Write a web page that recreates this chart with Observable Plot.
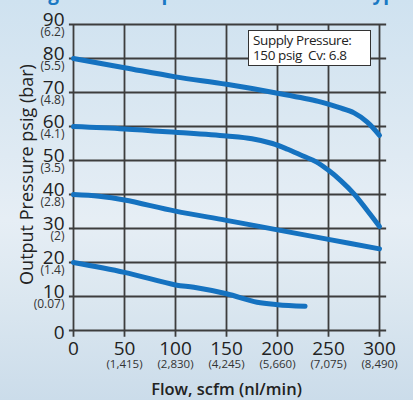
<!DOCTYPE html>
<html>
<head>
<meta charset="utf-8">
<script src="https://cdn.jsdelivr.net/npm/d3@7"></script>
<script src="https://cdn.jsdelivr.net/npm/@observablehq/plot@0.6"></script>
<style>
  html, body { margin: 0; padding: 0; }
  body {
    width: 413px; height: 400px; overflow: hidden; position: relative;
    background: linear-gradient(180deg, #cfe2f0 0%, #dbe8f2 30%, #e6eef5 55%, #dbe7f0 75%, #cbdcea 100%);
    font-family: "Open Sans", sans-serif;
  }
  #title {
    position: absolute; left: 28px; top: -20px; white-space: nowrap;
    font: 700 19px/27px "Open Sans", sans-serif; color: #1b79c4;
  }
  #chart { position: absolute; left: 0; top: 0; }
  #note {
    position: absolute; left: 248px; top: 30px; width: 117px; height: 34px;
    background: #fff; border: 1.6px solid #333; padding: 0 0 0 4px;
    font: 400 13.5px "Open Sans", sans-serif; line-height: 15px; color: #222;
    letter-spacing: -0.4px; box-sizing: content-box;
  }
  #note div:first-child { margin-top: 2px; }
</style>
</head>
<body>
<div id="title">High Flow Output Pressure vs Flow Typical</div>
<div id="chart"></div>
<div id="note"><div>Supply Pressure:</div><div>150 psig&nbsp; Cv: 6.8</div></div>
<script>
const yTicks = [0, 10, 20, 30, 40, 50, 60, 70, 80, 90];
const yBarLabels = ["", "(0.07)", "(1.4)", "(2)", "(2.8)", "(3.5)", "(4.1)", "(4.8)", "(5.5)", "(6.2)"];
const xTicks = [0, 50, 100, 150, 200, 250, 300];
const xNlLabels = ["", "(1,415)", "(2,830)", "(4,245)", "(5,660)", "(7,075)", "(8,490)"];

const flow80 = [0, 50, 100, 150, 200, 240, 260, 275, 288, 300];
const out80  = [80, 77.3, 74.6, 72.4, 69.8, 67.4, 65.6, 64.0, 61.3, 57.4];
const flow60 = [0, 50, 100, 150, 175, 195, 210, 225, 238, 250, 262, 275, 288, 300];
const out60  = [60, 59.3, 58.3, 57.2, 56.4, 55.0, 53.3, 51.3, 49.6, 47.1, 44.1, 40.2, 35.3, 30.6];
const flow40 = [0, 25, 50, 100, 150, 200, 250, 300];
const out40  = [40, 39.5, 38.4, 35.1, 32.4, 29.6, 26.8, 24.0];
const flow20 = [0, 50, 100, 118, 150, 180, 200, 227];
const out20  = [20, 17.1, 13.4, 12.7, 10.8, 8.3, 7.6, 7.1];

const series = [
  ["80", flow80, out80], ["60", flow60, out60], ["40", flow40, out40], ["20", flow20, out20]
];
const rows = series.flatMap(([s, xs, ys]) => xs.map((f, i) => ({s, flow: f, p: ys[i]})));

const grid = "#3d3d3d";
const chart = Plot.plot({
  width: 413, height: 400,
  marginLeft: 73, marginRight: 34, marginTop: 24, marginBottom: 70,
  x: {domain: [0, 300], axis: null},
  y: {domain: [0, 90], axis: null},
  style: {background: "transparent", fontFamily: "Open Sans, sans-serif", overflow: "visible"},
  marks: [
    Plot.ruleY(yTicks, {y: d => d, x1: -4, x2: 307, stroke: grid, strokeWidth: 1.8}),
    Plot.ruleX(xTicks, {x: d => d, y1: -2, y2: 90, stroke: grid, strokeWidth: 1.8}),
    Plot.line(rows, {x: "flow", y: "p", z: "s", stroke: "#1572c0", strokeWidth: 5,
      curve: "catmull-rom", strokeLinecap: "round", strokeLinejoin: "round"}),
    Plot.text(yTicks.filter(d => d > 0), {x: 0, y: d => d, text: d => String(d), textAnchor: "end",
      lineAnchor: "bottom", dx: -9, dy: 1, fontSize: 19, fill: "#222"}),
    Plot.text([0], {x: 0, y: d => d, text: d => String(d), textAnchor: "end",
      lineAnchor: "middle", dx: -9, dy: 2, fontSize: 19, fill: "#222"}),
    Plot.text(yTicks.map((d, i) => ({d, t: yBarLabels[i]})).filter(o => o.t), {x: 0, y: "d", text: "t",
      textAnchor: "end", lineAnchor: "top", dx: -9, dy: 3, fontSize: 12, fill: "#333"}),
    Plot.text(xTicks, {x: d => d, y: 0, text: d => String(d), lineAnchor: "top", dy: 11, fontSize: 19, fill: "#222"}),
    Plot.text(xTicks.map((d, i) => ({d, t: xNlLabels[i]})).filter(o => o.t), {x: "d", y: 0, text: "t",
      lineAnchor: "top", dy: 29, fontSize: 11.5, fill: "#333"}),
    Plot.text(["Flow, scfm (nl/min)"], {frameAnchor: "bottom", dy: 64, fontSize: 16.5, fontWeight: 600, fill: "#222"}),
    Plot.text(["Output Pressure psig (bar)"], {frameAnchor: "left", textAnchor: "middle", lineAnchor: "middle",
      dx: -46, dy: -3, rotate: -90, fontSize: 18, fontWeight: 500, fill: "#222"})
  ]
});
document.getElementById("chart").appendChild(chart);
</script>
</body>
</html>
